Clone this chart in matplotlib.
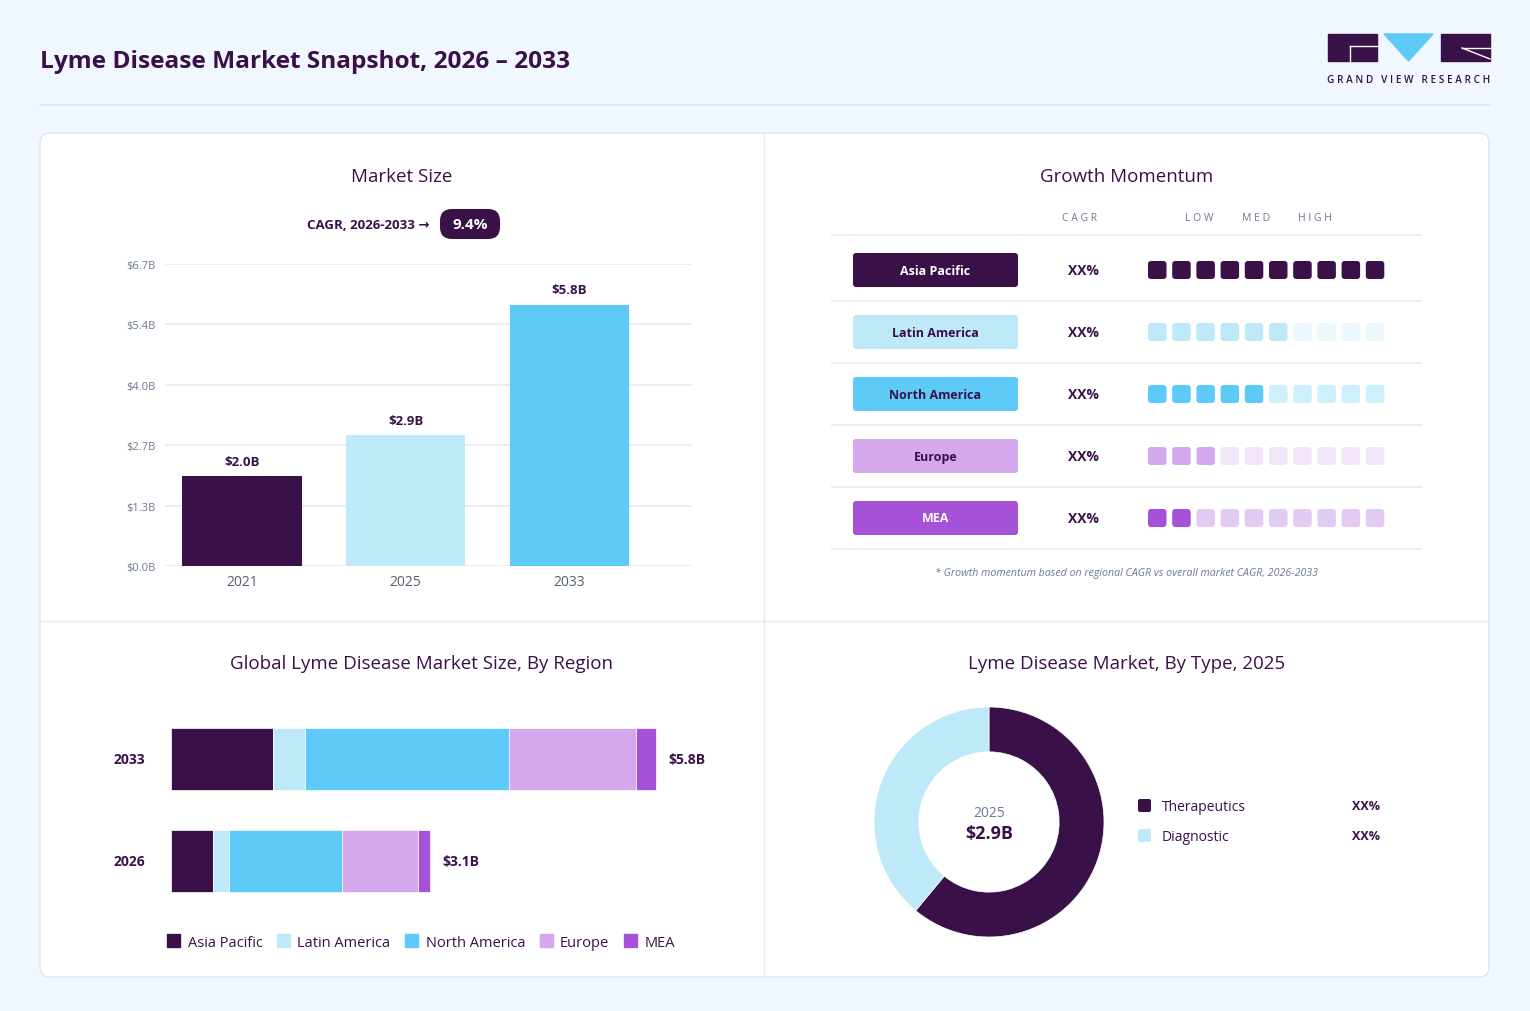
import numpy as np
import matplotlib.pyplot as plt
from matplotlib.patches import FancyBboxPatch, Rectangle, Polygon, Patch

plt.rcParams['font.family'] = ['Open Sans', 'DejaVu Sans']

# data
years = ['2021', '2025', '2033']
market_size = [2.0, 2.9, 5.8]
cagr_label = '9.4%'

regions = ['Asia Pacific', 'Latin America', 'North America', 'Europe', 'MEA']
momentum = [10, 6, 5, 3, 2]
region_cagr = ['XX%', 'XX%', 'XX%', 'XX%', 'XX%']

bar_years = ['2026', '2033']
region_2026 = [0.50, 0.20, 1.35, 0.91, 0.14]
region_2033 = [1.22, 0.38, 2.45, 1.52, 0.23]
totals = ['$3.1B', '$5.8B']

types = ['Therapeutics', 'Diagnostic']
type_share = [61, 39]
type_label = ['XX%', 'XX%']

DARK = '#3A1049'
LBLUE = '#BDE9F9'
SKY = '#5DCAF7'
LAV = '#D4A8EC'
PURP = '#A552D8'
reg_colors = [DARK, LBLUE, SKY, LAV, PURP]
GRAY = '#6B7A90'
GRID = '#E5EAF2'

W, H = 1530, 1012


def box(x0, y0, x1, y1):
    return [x0 / W, 1 - y1 / H, (x1 - x0) / W, (y1 - y0) / H]


fig = plt.figure(figsize=(W / 100, H / 100), dpi=100)
fig.patch.set_facecolor('#F0F7FE')

bg = fig.add_axes([0, 0, 1, 1])
bg.set_xlim(0, W)
bg.set_ylim(H, 0)
bg.axis('off')

# header
bg.text(40, 62, 'Lyme Disease Market Snapshot, 2026 – 2033', fontsize=17.6,
        fontweight='bold', color=DARK, va='center')
bg.plot([40, 1490], [106, 106], color='#DCE3EC', lw=1.2)

# logo
bg.add_patch(Rectangle((1328, 35), 49, 27, color=DARK))
bg.plot([1350, 1377], [47, 47], color='white', lw=1)
bg.plot([1350, 1350], [47, 62], color='white', lw=1)
bg.add_patch(Polygon([(1384, 35), (1433, 35), (1408.5, 62)], color=SKY))
bg.add_patch(Rectangle((1441, 35), 49, 27, color=DARK))
bg.plot([1462, 1490], [49, 49], color='white', lw=1)
bg.plot([1462, 1490], [49, 60], color='white', lw=1)
bg.text(1409, 80, 'G R A N D   V I E W   R E S E A R C H', fontsize=7.2, color=DARK,
        fontweight='semibold', ha='center', va='center')

# card
bg.add_patch(FancyBboxPatch((40, 134), 1449, 844, boxstyle='round,pad=0,rounding_size=10',
                            fc='white', ec='#DDE5EE', lw=1))
bg.plot([764, 764], [134, 978], color='#E3EAF2', lw=1)
bg.plot([40, 1489], [622, 622], color='#E3EAF2', lw=1)

# panel titles
bg.text(402, 177, 'Market Size', fontsize=13.5, color=DARK, ha='center', va='center')
bg.text(1127, 177, 'Growth Momentum', fontsize=13.5, color=DARK, ha='center', va='center')
bg.text(422, 664, 'Global Lyme Disease Market Size, By Region', fontsize=13.5, color=DARK,
        ha='center', va='center')
bg.text(1127, 664, 'Lyme Disease Market, By Type, 2025', fontsize=13.5, color=DARK,
        ha='center', va='center')

# CAGR pill
bg.text(430, 225, 'CAGR, 2026-2033 →', fontsize=9.5, fontweight='bold', color=DARK,
        ha='right', va='center')
bg.add_patch(FancyBboxPatch((440, 210), 60, 30, boxstyle='round,pad=0,rounding_size=12',
                            fc=DARK, ec='none'))
bg.text(470, 225, cagr_label, fontsize=11, fontweight='bold', color='white',
        ha='center', va='center')

# market size bars
ax1 = fig.add_axes(box(165, 265, 692, 567))
x = np.arange(len(years))
ax1.bar(x, market_size, width=0.73, color=[DARK, LBLUE, SKY], zorder=3)
for xi, v in zip(x, market_size):
    ax1.annotate(f'${v:.1f}B', (xi, v), xytext=(0, 6), textcoords='offset points',
                 ha='center', va='bottom', fontsize=9.5, fontweight='bold', color=DARK)
ax1.set_xlim(-0.47, 2.75)
ax1.set_ylim(0, 6.7)
yt = np.linspace(0, 6.7, 6)
ax1.set_yticks(yt)
ax1.set_yticklabels([f'${t:.1f}B' for t in yt])
ax1.set_xticks(x)
ax1.set_xticklabels(years)
ax1.grid(axis='y', color=GRID, lw=1.2, zorder=0)
for s in ax1.spines.values():
    s.set_visible(False)
ax1.tick_params(axis='y', length=0, labelsize=8, labelcolor=GRAY, pad=7)
ax1.tick_params(axis='x', length=0, labelsize=10, labelcolor='#555F6E', pad=6)
ax1.set_facecolor('none')

# growth momentum table
ax2 = fig.add_axes(box(831, 201, 1422, 561))
ax2.set_xlim(831, 1422)
ax2.set_ylim(560, 200)
ax2.axis('off')
ax2.text(1080, 217, 'C A G R', fontsize=7.5, color=GRAY, ha='center', va='center')
for lbl, xx in zip(['L O W', 'M E D', 'H I G H'], [1199, 1256, 1315]):
    ax2.text(xx, 217, lbl, fontsize=7.5, color=GRAY, ha='center', va='center')
row_h = 62
ax2.plot([831, 1422], [235, 235], color=GRID, lw=1.2)
for i, (reg, n, cg, col) in enumerate(zip(regions, momentum, region_cagr, reg_colors)):
    yc = 270 + i * row_h
    ax2.plot([831, 1422], [yc + 31, yc + 31], color=GRID, lw=1.2)
    ax2.add_patch(FancyBboxPatch((853, yc - 17), 165, 34, boxstyle='round,pad=0,rounding_size=3',
                                 fc=col, ec='none'))
    tc = 'white' if col in (DARK, PURP) else DARK
    ax2.text(935.5, yc, reg, fontsize=9, fontweight='bold', color=tc, ha='center', va='center')
    ax2.text(1083, yc, cg, fontsize=10, fontweight='bold', color=DARK, ha='center', va='center')
    for k in range(10):
        alpha = 1 if k < n else 0.3
        ax2.add_patch(FancyBboxPatch((1148 + k * 24.2, yc - 9), 18.5, 18,
                                     boxstyle='round,pad=0,rounding_size=3',
                                     fc=col, ec='none', alpha=alpha))
ax2.text(1127, 572, '* Growth momentum based on regional CAGR vs overall market CAGR, 2026-2033',
         fontsize=7.7, style='italic', color=GRAY, ha='center', va='center')

# stacked region bars
ax3 = fig.add_axes(box(171, 701, 735, 921))
ax3.set_xlim(0, 6.75)
ax3.set_ylim(-0.578, 1.578)
ax3.axis('off')
data = np.array([region_2026, region_2033])
left = np.zeros(2)
for j, col in enumerate(reg_colors):
    ax3.barh([0, 1], data[:, j], left=left, height=0.61, color=col, edgecolor='white', lw=0.5)
    left += data[:, j]
for yi, (yr, tot) in enumerate(zip(bar_years, totals)):
    ax3.annotate(tot, (left[yi], yi), xytext=(9, 0), textcoords='offset points',
                 ha='left', va='center', fontsize=10, fontweight='bold', color=DARK)
    ax3.annotate(yr, (0, yi), xytext=(-30, 0), textcoords='offset points',
                 ha='center', va='center', fontsize=10, fontweight='bold', color=DARK,
                 annotation_clip=False)

handles = [Patch(color=c, label=r) for c, r in zip(reg_colors, regions)]
fig.legend(handles=handles, loc='center', bbox_to_anchor=(421 / W, 1 - 943 / H), ncol=5,
           frameon=False, fontsize=10.5, handlelength=0.9, handleheight=0.9,
           handletextpad=0.5, columnspacing=1.0, labelcolor=DARK)

# donut
ax4 = fig.add_axes(box(869, 703, 1109, 943))
ax4.pie(type_share, colors=[DARK, LBLUE], startangle=90, counterclock=False,
        wedgeprops=dict(width=0.39, edgecolor='white', lw=0.5))
ax4.set_xlim(-1.0435, 1.0435)
ax4.set_ylim(-1.0435, 1.0435)
ax4.set_aspect('equal')
ax4.text(0, 0.08, '2025', fontsize=10, color=GRAY, ha='center', va='center')
ax4.text(0, -0.10, f'${market_size[1]:.1f}B', fontsize=13, fontweight='bold', color=DARK,
         ha='center', va='center')

for i, (t, lbl, col) in enumerate(zip(types, type_label, [DARK, LBLUE])):
    yy = 807 + i * 30
    bg.add_patch(FancyBboxPatch((1138, yy - 7), 13, 13, boxstyle='round,pad=0,rounding_size=2',
                                fc=col, ec='none'))
    bg.text(1162, yy + 1, t, fontsize=10, color=DARK, va='center')
    bg.text(1380, yy, lbl, fontsize=9, fontweight='bold', color=DARK, ha='right', va='center')

fig.savefig('out.png', dpi=100, facecolor=fig.get_facecolor())
